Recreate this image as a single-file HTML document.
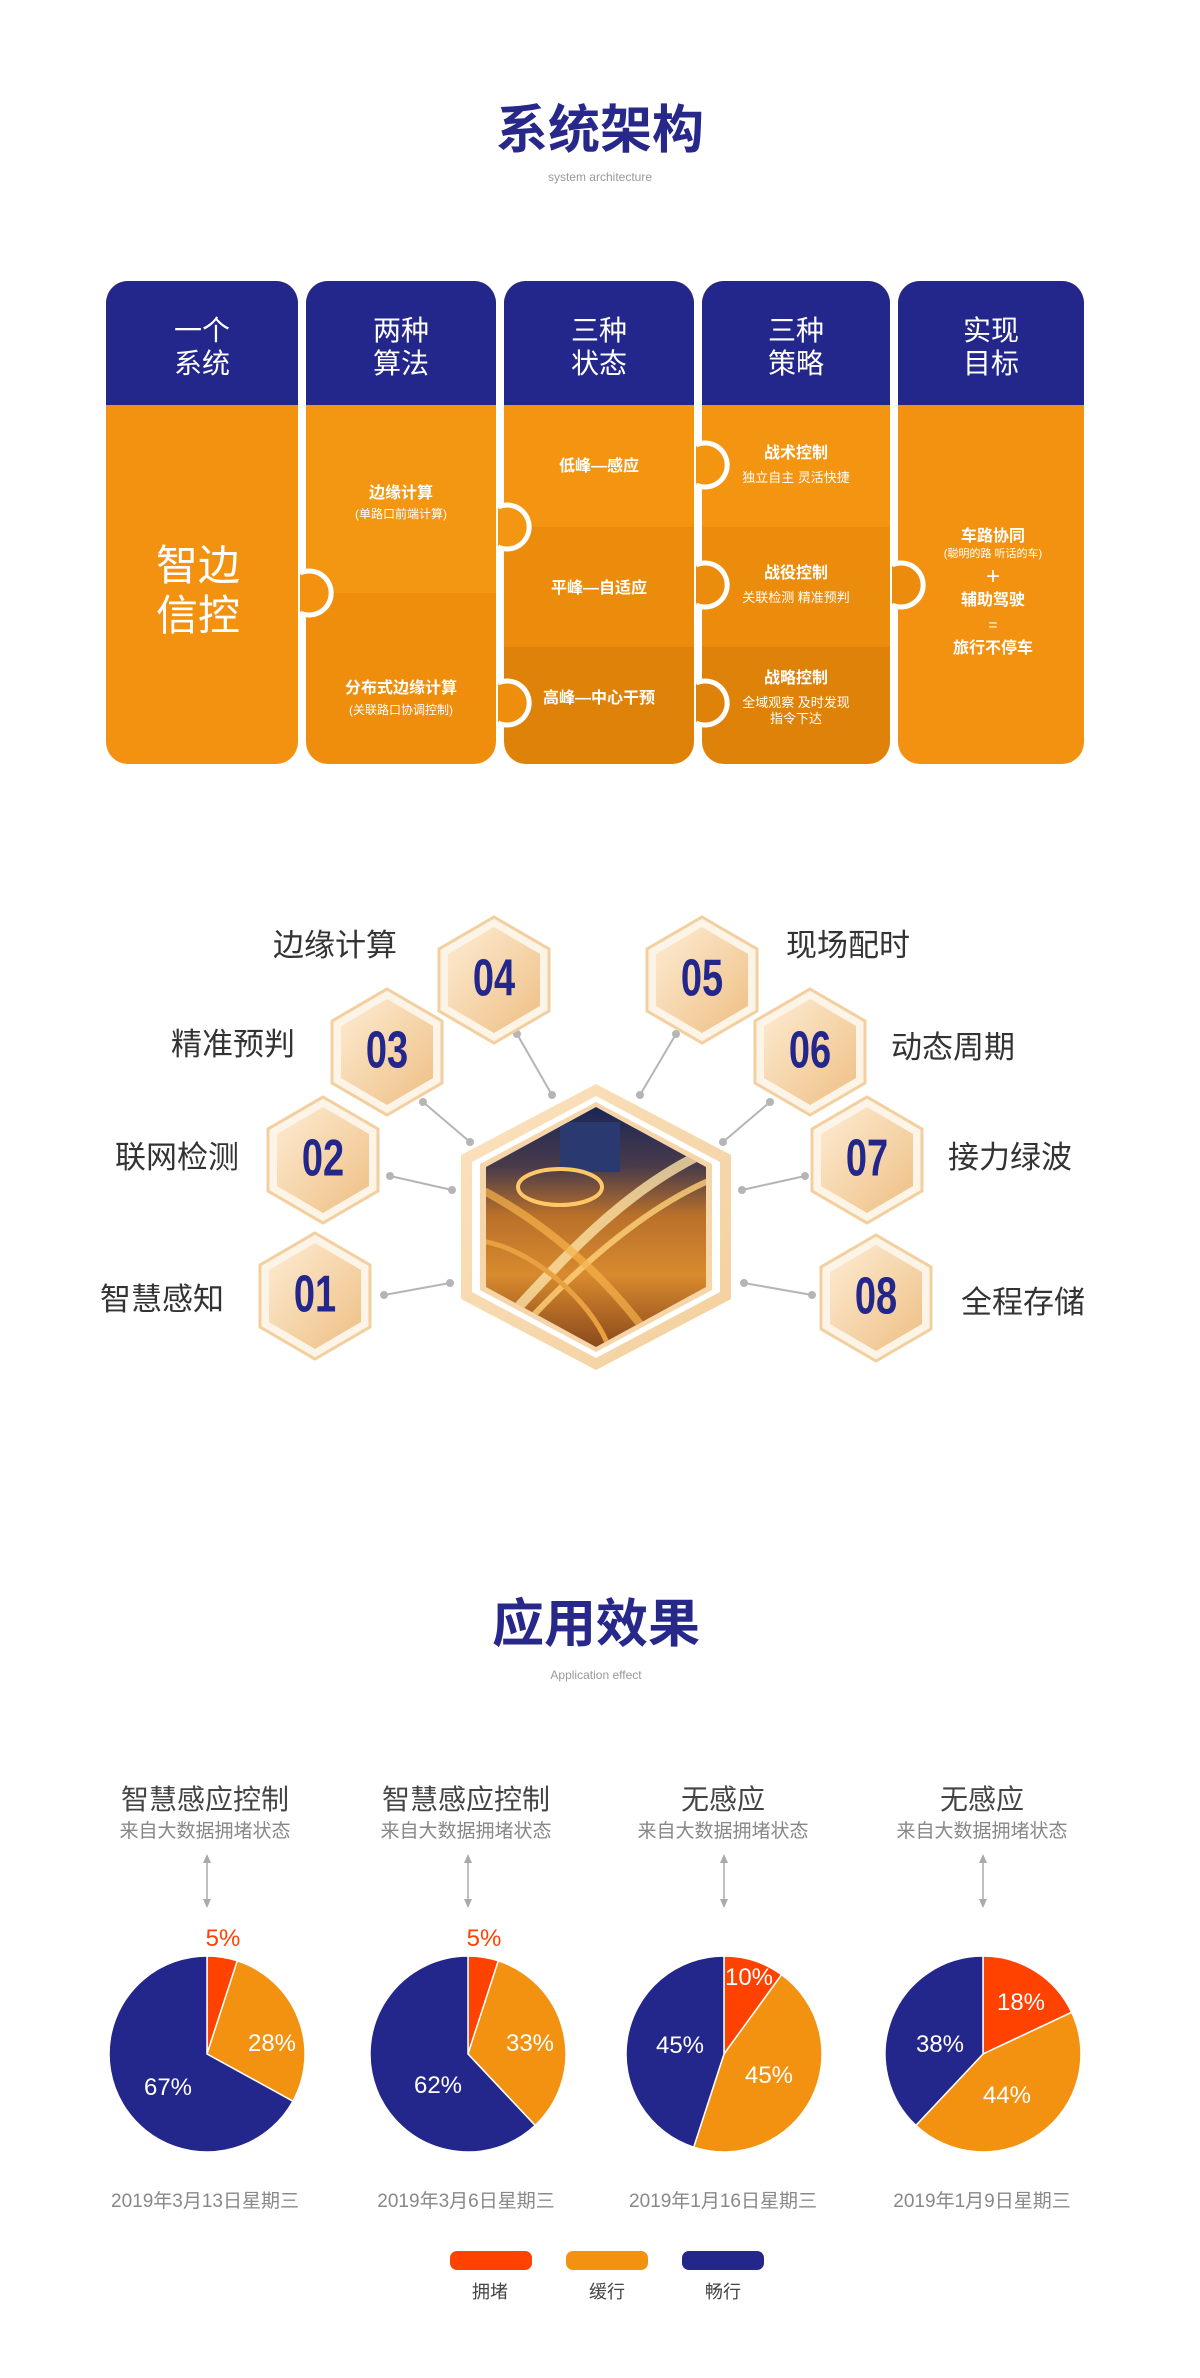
<!DOCTYPE html>
<html><head><meta charset="utf-8"><style>
html,body{margin:0;padding:0;background:#fff;}
svg{display:block;}
text{font-family:"Liberation Sans","Noto Sans CJK SC",sans-serif;}
.n{font-size:40px;font-weight:bold;fill:#23268a;}
</style></head><body>
<svg width="1200" height="2378" viewBox="0 0 1200 2378" xmlns="http://www.w3.org/2000/svg">
<defs>
<linearGradient id="hg" x1="0" y1="0" x2="1" y2="1"><stop offset="0" stop-color="#fdecd3"/><stop offset="1" stop-color="#eebf84"/></linearGradient>
<linearGradient id="cg" x1="0" y1="0" x2="1" y2="1"><stop offset="0" stop-color="#fbe2bf"/><stop offset="1" stop-color="#f3cf9c"/></linearGradient>
<linearGradient id="img" x1="0" y1="0" x2="0" y2="1"><stop offset="0" stop-color="#1a2656"/><stop offset="0.25" stop-color="#4a3b4a"/><stop offset="0.45" stop-color="#b8702a"/><stop offset="0.7" stop-color="#d88a2e"/><stop offset="1" stop-color="#8a4a1c"/></linearGradient>
<clipPath id="c1"><rect x="106" y="281" width="192" height="483" rx="22"/></clipPath>
<clipPath id="c2"><rect x="306" y="281" width="190" height="483" rx="22"/></clipPath>
<clipPath id="c3"><rect x="504" y="281" width="190" height="483" rx="22"/></clipPath>
<clipPath id="c4"><rect x="702" y="281" width="188" height="483" rx="22"/></clipPath>
<clipPath id="c5"><rect x="898" y="281" width="186" height="483" rx="22"/></clipPath>
<clipPath id="ih"><polygon points="596,1095 706,1155 706,1275 596,1335 486,1275 486,1155"/></clipPath>
</defs>

<!-- Title 1 -->
<text x="600" y="148" text-anchor="middle" font-size="52" font-weight="bold" fill="#27288a">系统架构</text>
<text x="600" y="181" text-anchor="middle" font-size="12" fill="#999">system architecture</text>

<!-- Puzzle columns -->
<g clip-path="url(#c1)"><rect x="106" y="281" width="192" height="483" fill="#f39211"/><rect x="106" y="281" width="192" height="124" fill="#23268a"/></g>
<g clip-path="url(#c2)"><rect x="306" y="281" width="190" height="483" fill="#ee8e0c"/><rect x="306" y="405" width="190" height="188" fill="#f39612"/><rect x="306" y="281" width="190" height="124" fill="#23268a"/></g>
<g clip-path="url(#c3)"><rect x="504" y="281" width="190" height="483" fill="#df820a"/><rect x="504" y="405" width="190" height="242" fill="#ec8c0c"/><rect x="504" y="405" width="190" height="122" fill="#f39511"/><rect x="504" y="281" width="190" height="124" fill="#23268a"/></g>
<g clip-path="url(#c4)"><rect x="702" y="281" width="188" height="483" fill="#df820a"/><rect x="702" y="405" width="188" height="242" fill="#ec8c0c"/><rect x="702" y="405" width="188" height="122" fill="#f39511"/><rect x="702" y="281" width="188" height="124" fill="#23268a"/></g>
<g clip-path="url(#c5)"><rect x="898" y="281" width="186" height="483" fill="#f39211"/><rect x="898" y="281" width="186" height="124" fill="#23268a"/></g>

<!-- knobs -->
<g stroke="#fff" stroke-width="5">
<path d="M300,573 A22,22 0 1 1 300,613" fill="#f39211"/>
<path d="M498,507 A22,22 0 1 1 498,547" fill="#f39612"/>
<path d="M498,683 A22,22 0 1 1 498,723" fill="#ee8e0c"/>
<path d="M696,445 A22,22 0 1 1 696,485" fill="#f39511"/>
<path d="M696,565 A22,22 0 1 1 696,605" fill="#ec8c0c"/>
<path d="M696,683 A22,22 0 1 1 696,723" fill="#df820a"/>
<path d="M892,565 A22,22 0 1 1 892,605" fill="#ec8c0c"/>
</g>

<g fill="#fff" text-anchor="middle">
<text x="202" y="340" font-size="28">一个</text><text x="202" y="373" font-size="28">系统</text>
<text x="401" y="340" font-size="28">两种</text><text x="401" y="373" font-size="28">算法</text>
<text x="599" y="340" font-size="28">三种</text><text x="599" y="373" font-size="28">状态</text>
<text x="796" y="340" font-size="28">三种</text><text x="796" y="373" font-size="28">策略</text>
<text x="991" y="340" font-size="28">实现</text><text x="991" y="373" font-size="28">目标</text>

<text x="198" y="580" font-size="42">智边</text><text x="198" y="630" font-size="42">信控</text>

<text x="401" y="498" font-size="16" font-weight="bold">边缘计算</text>
<text x="401" y="518" font-size="12">(单路口前端计算)</text>
<text x="401" y="693" font-size="16" font-weight="bold">分布式边缘计算</text>
<text x="401" y="714" font-size="12">(关联路口协调控制)</text>

<text x="599" y="471" font-size="16" font-weight="bold">低峰—感应</text>
<text x="599" y="593" font-size="16" font-weight="bold">平峰—自适应</text>
<text x="599" y="703" font-size="16" font-weight="bold">高峰—中心干预</text>

<text x="796" y="458" font-size="16" font-weight="bold">战术控制</text>
<text x="796" y="482" font-size="13">独立自主 灵活快捷</text>
<text x="796" y="578" font-size="16" font-weight="bold">战役控制</text>
<text x="796" y="602" font-size="13">关联检测 精准预判</text>
<text x="796" y="683" font-size="16" font-weight="bold">战略控制</text>
<text x="796" y="707" font-size="13">全域观察 及时发现</text>
<text x="796" y="723" font-size="13">指令下达</text>

<text x="993" y="541" font-size="16" font-weight="bold">车路协同</text>
<text x="993" y="557" font-size="11">(聪明的路 听话的车)</text>
<text x="993" y="584" font-size="24">+</text>
<text x="993" y="605" font-size="16" font-weight="bold">辅助驾驶</text>
<text x="993" y="630" font-size="16">=</text>
<text x="993" y="653" font-size="16" font-weight="bold">旅行不停车</text>
</g>

<g transform="translate(0,12)">
<!-- Connectors -->
<g stroke="#b5b5b5" stroke-width="2" fill="#b5b5b5">
<line x1="517" y1="1022" x2="552" y2="1083"/><circle cx="517" cy="1022" r="3"/><circle cx="552" cy="1083" r="3"/>
<line x1="676" y1="1022" x2="640" y2="1083"/><circle cx="676" cy="1022" r="3"/><circle cx="640" cy="1083" r="3"/>
<line x1="423" y1="1090" x2="470" y2="1130"/><circle cx="423" cy="1090" r="3"/><circle cx="470" cy="1130" r="3"/>
<line x1="770" y1="1090" x2="723" y2="1130"/><circle cx="770" cy="1090" r="3"/><circle cx="723" cy="1130" r="3"/>
<line x1="390" y1="1164" x2="452" y2="1178"/><circle cx="390" cy="1164" r="3"/><circle cx="452" cy="1178" r="3"/>
<line x1="805" y1="1164" x2="742" y2="1178"/><circle cx="805" cy="1164" r="3"/><circle cx="742" cy="1178" r="3"/>
<line x1="384" y1="1283" x2="450" y2="1271"/><circle cx="384" cy="1283" r="3"/><circle cx="450" cy="1271" r="3"/>
<line x1="812" y1="1283" x2="744" y2="1271"/><circle cx="812" cy="1283" r="3"/><circle cx="744" cy="1271" r="3"/>
</g>

<!-- Center hex -->
<polygon points="596,1072 731,1143 731,1287 596,1358 461,1287 461,1143" fill="url(#cg)"/>
<polygon points="596,1084 720,1150 720,1280 596,1346 472,1280 472,1150" fill="#fff"/>
<polygon points="596,1090 712,1152 712,1278 596,1340 480,1278 480,1152" fill="#f6d6a8"/>
<polygon points="596,1095 706,1155 706,1275 596,1335 486,1275 486,1155" fill="url(#img)"/>
<g clip-path="url(#ih)" fill="none" stroke-linecap="round">
<rect x="560" y="1110" width="60" height="50" fill="#2a3a70"/>
<path d="M486,1330 C560,1250 620,1180 706,1140" stroke="#fbe2a6" stroke-width="10" opacity="0.8"/>
<path d="M500,1340 C570,1260 640,1200 706,1170" stroke="#ffd27a" stroke-width="6" opacity="0.8"/>
<path d="M486,1180 C560,1220 620,1280 660,1340" stroke="#f7b24a" stroke-width="8" opacity="0.7"/>
<ellipse cx="560" cy="1175" rx="42" ry="18" stroke="#ffc866" stroke-width="4"/>
<path d="M486,1230 C540,1240 600,1300 610,1340" stroke="#e8a040" stroke-width="5"/>
</g>

<!-- Small hexes -->
<g transform="translate(494,968)"><polygon points="0,-63 55,-31 55,31 0,63 -55,31 -55,-31" fill="#fdf4e8" stroke="#f3cf9f" stroke-width="3"/><polygon points="0,-53 46,-26 46,26 0,53 -46,26 -46,-26" fill="url(#hg)"/><text class="n" transform="scale(0.95,1.3)" y="12" text-anchor="middle">04</text></g>
<g transform="translate(702,968)"><polygon points="0,-63 55,-31 55,31 0,63 -55,31 -55,-31" fill="#fdf4e8" stroke="#f3cf9f" stroke-width="3"/><polygon points="0,-53 46,-26 46,26 0,53 -46,26 -46,-26" fill="url(#hg)"/><text class="n" transform="scale(0.95,1.3)" y="12" text-anchor="middle">05</text></g>
<g transform="translate(387,1040)"><polygon points="0,-63 55,-31 55,31 0,63 -55,31 -55,-31" fill="#fdf4e8" stroke="#f3cf9f" stroke-width="3"/><polygon points="0,-53 46,-26 46,26 0,53 -46,26 -46,-26" fill="url(#hg)"/><text class="n" transform="scale(0.95,1.3)" y="12" text-anchor="middle">03</text></g>
<g transform="translate(810,1040)"><polygon points="0,-63 55,-31 55,31 0,63 -55,31 -55,-31" fill="#fdf4e8" stroke="#f3cf9f" stroke-width="3"/><polygon points="0,-53 46,-26 46,26 0,53 -46,26 -46,-26" fill="url(#hg)"/><text class="n" transform="scale(0.95,1.3)" y="12" text-anchor="middle">06</text></g>
<g transform="translate(323,1148)"><polygon points="0,-63 55,-31 55,31 0,63 -55,31 -55,-31" fill="#fdf4e8" stroke="#f3cf9f" stroke-width="3"/><polygon points="0,-53 46,-26 46,26 0,53 -46,26 -46,-26" fill="url(#hg)"/><text class="n" transform="scale(0.95,1.3)" y="12" text-anchor="middle">02</text></g>
<g transform="translate(867,1148)"><polygon points="0,-63 55,-31 55,31 0,63 -55,31 -55,-31" fill="#fdf4e8" stroke="#f3cf9f" stroke-width="3"/><polygon points="0,-53 46,-26 46,26 0,53 -46,26 -46,-26" fill="url(#hg)"/><text class="n" transform="scale(0.95,1.3)" y="12" text-anchor="middle">07</text></g>
<g transform="translate(315,1284)"><polygon points="0,-63 55,-31 55,31 0,63 -55,31 -55,-31" fill="#fdf4e8" stroke="#f3cf9f" stroke-width="3"/><polygon points="0,-53 46,-26 46,26 0,53 -46,26 -46,-26" fill="url(#hg)"/><text class="n" transform="scale(0.95,1.3)" y="12" text-anchor="middle">01</text></g>
<g transform="translate(876,1286)"><polygon points="0,-63 55,-31 55,31 0,63 -55,31 -55,-31" fill="#fdf4e8" stroke="#f3cf9f" stroke-width="3"/><polygon points="0,-53 46,-26 46,26 0,53 -46,26 -46,-26" fill="url(#hg)"/><text class="n" transform="scale(0.95,1.3)" y="12" text-anchor="middle">08</text></g>

<g fill="#333" font-size="31" text-anchor="middle">
<text x="335" y="944">边缘计算</text>
<text x="848" y="944">现场配时</text>
<text x="233" y="1043">精准预判</text>
<text x="953" y="1046">动态周期</text>
<text x="177" y="1156">联网检测</text>
<text x="1010" y="1156">接力绿波</text>
<text x="162" y="1298">智慧感知</text>
<text x="1023" y="1301">全程存储</text>
</g>
</g>

<g transform="translate(0,19)">
<!-- Title 2 -->
<text x="596" y="1623" text-anchor="middle" font-size="52" font-weight="bold" fill="#27288a">应用效果</text>
<text x="596" y="1660" text-anchor="middle" font-size="12" fill="#999">Application effect</text>

<!-- Pie headers -->
<g text-anchor="middle">
<text x="205" y="1790" font-size="28" fill="#444">智慧感应控制</text>
<text x="466" y="1790" font-size="28" fill="#444">智慧感应控制</text>
<text x="723" y="1790" font-size="28" fill="#444">无感应</text>
<text x="982" y="1790" font-size="28" fill="#444">无感应</text>
<text x="205" y="1818" font-size="19" fill="#888">来自大数据拥堵状态</text>
<text x="466" y="1818" font-size="19" fill="#888">来自大数据拥堵状态</text>
<text x="723" y="1818" font-size="19" fill="#888">来自大数据拥堵状态</text>
<text x="982" y="1818" font-size="19" fill="#888">来自大数据拥堵状态</text>
</g>
<g stroke="#aaa" stroke-width="1.5" fill="#aaa">
<line x1="207" y1="1838" x2="207" y2="1886"/><path d="M203,1844 L207,1835 L211,1844Z M203,1880 L207,1889 L211,1880Z" stroke="none"/>
<line x1="468" y1="1838" x2="468" y2="1886"/><path d="M464,1844 L468,1835 L472,1844Z M464,1880 L468,1889 L472,1880Z" stroke="none"/>
<line x1="724" y1="1838" x2="724" y2="1886"/><path d="M720,1844 L724,1835 L728,1844Z M720,1880 L724,1889 L728,1880Z" stroke="none"/>
<line x1="983" y1="1838" x2="983" y2="1886"/><path d="M979,1844 L983,1835 L987,1844Z M979,1880 L983,1889 L987,1880Z" stroke="none"/>
</g>

<g transform="translate(0,3)">
<!-- Pies -->
<g stroke="#fff" stroke-width="1.5">
<g transform="translate(207,2032)">
<path d="M0,0 L0,-98 A98,98 0 0 1 30.3,-93.2Z" fill="#ff4200"/>
<path d="M0,0 L30.3,-93.2 A98,98 0 0 1 85.9,47.2Z" fill="#f39211"/>
<path d="M0,0 L85.9,47.2 A98,98 0 1 1 0,-98Z" fill="#23268a"/>
</g>
<g transform="translate(468,2032)">
<path d="M0,0 L0,-98 A98,98 0 0 1 30.3,-93.2Z" fill="#ff4200"/>
<path d="M0,0 L30.3,-93.2 A98,98 0 0 1 67.1,71.4Z" fill="#f39211"/>
<path d="M0,0 L67.1,71.4 A98,98 0 1 1 0,-98Z" fill="#23268a"/>
</g>
<g transform="translate(724,2032)">
<path d="M0,0 L0,-98 A98,98 0 0 1 57.6,-79.3Z" fill="#ff4200"/>
<path d="M0,0 L57.6,-79.3 A98,98 0 0 1 -30.3,93.2Z" fill="#f39211"/>
<path d="M0,0 L-30.3,93.2 A98,98 0 0 1 0,-98Z" fill="#23268a"/>
</g>
<g transform="translate(983,2032)">
<path d="M0,0 L0,-98 A98,98 0 0 1 88.7,-41.7Z" fill="#ff4200"/>
<path d="M0,0 L88.7,-41.7 A98,98 0 0 1 -67.1,71.4Z" fill="#f39211"/>
<path d="M0,0 L-67.1,71.4 A98,98 0 0 1 0,-98Z" fill="#23268a"/>
</g>
</g>
<g font-size="24" text-anchor="middle">
<text x="223" y="1924" fill="#ff4200">5%</text>
<text x="272" y="2029" fill="#fff">28%</text>
<text x="168" y="2073" fill="#fff">67%</text>
<text x="484" y="1924" fill="#ff4200">5%</text>
<text x="530" y="2029" fill="#fff">33%</text>
<text x="438" y="2071" fill="#fff">62%</text>
<text x="749" y="1963" fill="#fff">10%</text>
<text x="680" y="2031" fill="#fff">45%</text>
<text x="769" y="2061" fill="#fff">45%</text>
<text x="1021" y="1988" fill="#fff">18%</text>
<text x="940" y="2030" fill="#fff">38%</text>
<text x="1007" y="2081" fill="#fff">44%</text>
</g>
</g>

<g transform="translate(0,6)">
<g text-anchor="middle" font-size="19" fill="#888">
<text x="205" y="2182">2019年3月13日星期三</text>
<text x="466" y="2182">2019年3月6日星期三</text>
<text x="723" y="2182">2019年1月16日星期三</text>
<text x="982" y="2182">2019年1月9日星期三</text>
</g>

<!-- Legend -->
<rect x="450" y="2226" width="82" height="19" rx="7" fill="#ff4200"/>
<rect x="566" y="2226" width="82" height="19" rx="7" fill="#f39211"/>
<rect x="682" y="2226" width="82" height="19" rx="7" fill="#23268a"/>
<g text-anchor="middle" font-size="18" fill="#444">
<text x="490" y="2273">拥堵</text>
<text x="607" y="2273">缓行</text>
<text x="723" y="2273">畅行</text>
</g>
</g>
</g>
</svg>
</body></html>
